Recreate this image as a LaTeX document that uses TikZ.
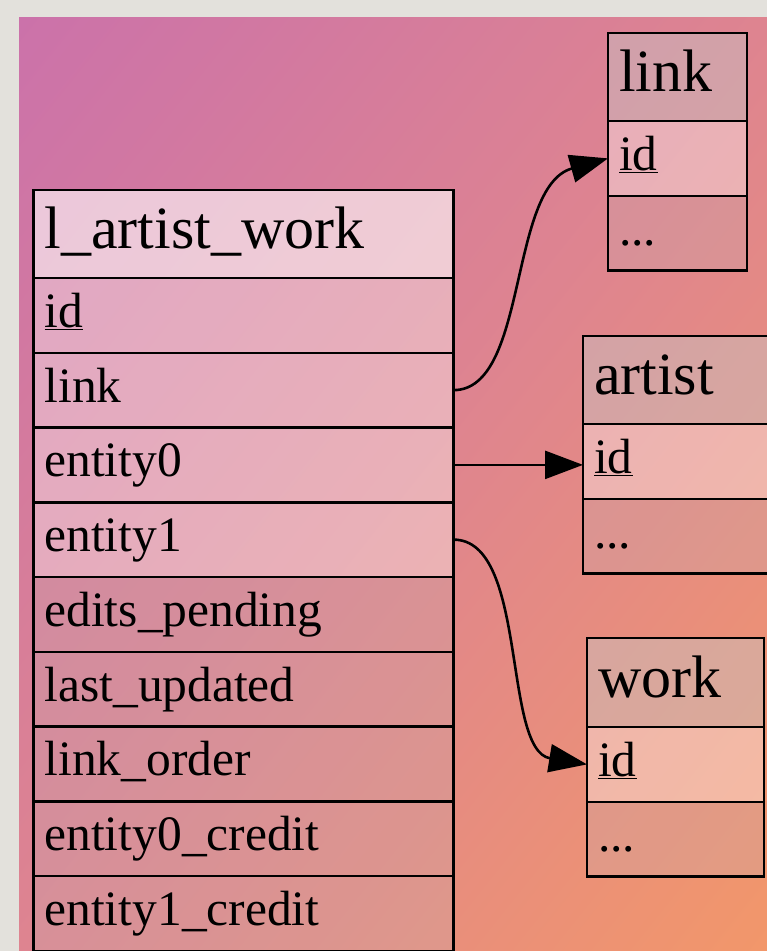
\documentclass[tikz,border=0pt]{standalone}
\usepackage{fontspec}
\setmainfont{Liberation Serif}
\usetikzlibrary{arrows.meta}
\definecolor{framegray}{HTML}{E3E1DC}
\definecolor{gA}{HTML}{CB72AA}
\definecolor{gM}{HTML}{DE8490}
\definecolor{gB}{HTML}{F2976A}
\definecolor{headgray}{RGB}{198,198,198}
\definecolor{plainfill}{RGB}{200,172,176}
\begin{document}
\begin{tikzpicture}[x=1pt,y=-1pt,
  tbl/.style={draw=black, line width=2.5pt, inner xsep=11pt, inner ysep=0pt, outer sep=0pt,
    anchor=north west, align=left, text opacity=1},
  ttl/.style={tbl, minimum height=88pt, text height=44pt, text depth=15pt,
    font=\rmfamily\fontsize{60}{70}\selectfont},
  fld/.style={tbl, minimum height=74.75pt, text height=36pt, text depth=12pt,
    font=\rmfamily\fontsize{49.5}{58}\selectfont},
  mainttl/.style={ttl, fill=white, fill opacity=0.6},
  smallttl/.style={ttl, fill=headgray, fill opacity=0.45},
  keyrow/.style={fld, fill=white, fill opacity=0.36},
  plainrow/.style={fld, fill=plainfill, fill opacity=0.3},
  fk/.style={line width=2.6pt, draw=black, -{Triangle[length=38pt,width=28pt]}}
]
\useasboundingbox (0,0) rectangle (767,951);
\fill[framegray] (0,0) rectangle (767,951);
\begin{scope}
  \clip (19,17) rectangle (767,951);
  \begin{scope}[transform canvas={shift={(393,484)}, rotate=-38.68}]
    \shade[left color=gA, right color=gB, middle color=gM] (-584,-800) rectangle (584,800);
  \end{scope}
\end{scope}

% main table
\node[mainttl, text width=398pt] (mt) at (33.5,190) {l\_artist\_work};
\node[keyrow, text width=398pt] (mid) at (mt.south west) {\underline{id}};
\node[keyrow, text width=398pt] (mlink) at (mid.south west) {link};
\node[keyrow, text width=398pt] (me0) at (mlink.south west) {entity0};
\node[keyrow, text width=398pt] (me1) at (me0.south west) {entity1};
\node[plainrow, text width=398pt] (medits) at (me1.south west) {edits\_pending};
\node[plainrow, text width=398pt] (mlast) at (medits.south west) {last\_updated};
\node[plainrow, text width=398pt] (morder) at (mlast.south west) {link\_order};
\node[plainrow, text width=398pt] (mc0) at (morder.south west) {entity0\_credit};
\node[plainrow, text width=398pt] (mc1) at (mc0.south west) {entity1\_credit};

% link table
\node[smallttl, text width=117pt] (lt) at (608,33) {link};
\node[keyrow, text width=117pt] (lid) at (lt.south west) {\underline{id}};
\node[plainrow, text width=117pt] (lmore) at (lid.south west) {...};

% artist table
\node[smallttl, text width=200pt] (at) at (583,336) {artist};
\node[keyrow, text width=200pt] (aid) at (at.south west) {\underline{id}};
\node[plainrow, text width=200pt] (amore) at (aid.south west) {...};

% work table
\node[smallttl, minimum height=89pt, text width=155pt] (wt) at (587,638) {work};
\node[keyrow, text width=155pt] (wid) at (wt.south west) {\underline{id}};
\node[plainrow, text width=155pt] (wmore) at (wid.south west) {...};

% connectors
\draw[fk] (mlink.east) .. controls +(75,0) and +(-100,28) .. (lid.west);
\draw[fk] (me0.east) -- (me0.east -| aid.west);
\draw[fk] (me1.east) .. controls +(75,0) and +(-85,-14) .. (wid.west);
\end{tikzpicture}
\end{document}
